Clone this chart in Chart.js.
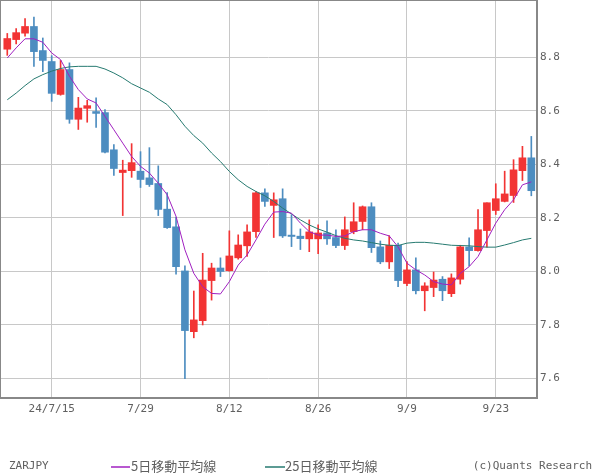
<!DOCTYPE html>
<html>
<head>
<meta charset="utf-8">
<script src="https://cdn.jsdelivr.net/npm/chart.js@4.4.1/dist/chart.umd.min.js"></script>
<style>
  html, body { margin: 0; padding: 0; background: #ffffff; }
  #wrap { width: 600px; height: 475px; position: relative; }
</style>
</head>
<body>
<div id="wrap"><canvas id="c" width="600" height="475"></canvas></div>
<script>
const symbol = 'ZARJPY';
const dates = ['7/8','7/9','7/10','7/11','7/12','7/15','7/16','7/17','7/18','7/19','7/22','7/23','7/24','7/25','7/26','7/29','7/30','7/31','8/1','8/2','8/5','8/6','8/7','8/8','8/9','8/12','8/13','8/14','8/15','8/16','8/19','8/20','8/21','8/22','8/23','8/26','8/27','8/28','8/29','8/30','9/2','9/3','9/4','9/5','9/6','9/9','9/10','9/11','9/12','9/13','9/16','9/17','9/18','9/19','9/20','9/23','9/24','9/25','9/26','9/27'];
const tickDates = ['7/15','7/29','8/12','8/26','9/9','9/23'];
const tickLabels = ['24/7/15','7/29','8/12','8/26','9/9','9/23'];
const yTicks = [7.6, 7.8, 8.0, 8.2, 8.4, 8.6, 8.8];

const opens  = [8.830,8.866,8.890,8.915,8.825,8.784,8.661,8.754,8.568,8.609,8.597,8.593,8.454,8.369,8.376,8.374,8.349,8.328,8.232,8.166,8.001,7.774,7.815,7.965,8.012,8.002,8.050,8.095,8.148,8.293,8.246,8.271,8.135,8.131,8.121,8.121,8.143,8.126,8.096,8.148,8.186,8.241,8.091,8.035,8.097,7.954,8.005,7.927,7.939,7.970,7.916,7.970,8.091,8.077,8.152,8.227,8.261,8.283,8.376,8.424];
const highs  = [8.889,8.907,8.945,8.950,8.872,8.806,8.788,8.779,8.650,8.639,8.648,8.604,8.473,8.415,8.477,8.447,8.462,8.394,8.294,8.202,8.020,7.926,8.067,8.030,8.050,8.151,8.136,8.173,8.298,8.308,8.293,8.308,8.211,8.158,8.192,8.173,8.188,8.155,8.203,8.256,8.244,8.256,8.113,8.133,8.105,8.036,8.050,7.957,7.997,7.980,7.990,8.097,8.125,8.230,8.256,8.327,8.374,8.417,8.467,8.504];
const lows   = [8.807,8.850,8.879,8.766,8.746,8.635,8.658,8.553,8.530,8.557,8.538,8.442,8.358,8.208,8.351,8.313,8.317,8.208,8.160,7.989,7.598,7.751,7.799,7.892,7.980,8.000,8.045,8.055,8.126,8.242,8.126,8.126,8.092,8.081,8.073,8.066,8.100,8.088,8.081,8.140,8.155,8.070,8.028,8.010,7.942,7.946,7.915,7.852,7.905,7.890,7.905,7.952,8.020,8.075,8.090,8.212,8.259,8.257,8.339,8.282];
const closes = [8.870,8.892,8.915,8.821,8.788,8.665,8.754,8.568,8.610,8.619,8.590,8.445,8.384,8.378,8.406,8.343,8.324,8.231,8.163,8.017,7.778,7.818,7.967,8.012,7.999,8.057,8.098,8.147,8.293,8.261,8.267,8.132,8.130,8.122,8.147,8.143,8.121,8.096,8.155,8.185,8.241,8.088,8.035,8.097,7.965,8.005,7.927,7.945,7.967,7.927,7.975,8.091,8.077,8.155,8.256,8.271,8.289,8.379,8.424,8.301];
const ma5  = [8.797,8.835,8.869,8.869,8.856,8.816,8.791,8.729,8.679,8.644,8.629,8.579,8.529,8.479,8.429,8.392,8.367,8.329,8.286,8.205,8.080,7.992,7.942,7.917,7.915,7.961,8.023,8.061,8.117,8.176,8.221,8.223,8.217,8.180,8.148,8.135,8.135,8.130,8.132,8.148,8.155,8.155,8.142,8.132,8.091,8.030,8.005,7.986,7.961,7.952,7.949,7.992,8.017,8.055,8.117,8.180,8.230,8.267,8.323,8.334];
const ma25 = [8.641,8.666,8.694,8.719,8.735,8.748,8.758,8.764,8.766,8.766,8.766,8.756,8.741,8.723,8.701,8.685,8.669,8.644,8.623,8.585,8.542,8.507,8.479,8.442,8.410,8.373,8.342,8.317,8.298,8.282,8.261,8.236,8.214,8.192,8.173,8.158,8.146,8.133,8.123,8.117,8.113,8.107,8.101,8.097,8.096,8.105,8.108,8.108,8.105,8.101,8.097,8.096,8.095,8.092,8.090,8.090,8.098,8.107,8.117,8.123];
const ma5Label = '5日移動平均線';
const ma25Label = '25日移動平均線';
const credit = '(c)Quants Research';

const UP = '#f23434';
const DOWN = '#4d8dc0';
const MA5C = '#a020c0';
const MA25C = '#267a70';
const TXT = '#606060';
const MONO = "'DejaVu Sans Mono', 'Liberation Mono', monospace";

const candleColor = (i) => closes[i] >= opens[i] ? UP : DOWN;

const wickData = dates.map((d, i) => ({x: i, y: [lows[i], highs[i]]}));
const bodyData = dates.map((d, i) => ({x: i, y: [opens[i], closes[i]]}));
const ma5Data  = dates.map((d, i) => ({x: i, y: ma5[i]}));
const ma25Data = dates.map((d, i) => ({x: i, y: ma25[i]}));

const frame = {
  id: 'frame',
  afterDraw(chart) {
    const {ctx, chartArea: a} = chart;
    ctx.save();
    ctx.strokeStyle = '#888888';
    ctx.lineWidth = 2;
    ctx.strokeRect(a.left, a.top, a.right - a.left, a.bottom - a.top);
    // footer
    const y = 466;
    ctx.textBaseline = 'middle';
    ctx.fillStyle = TXT;
    ctx.font = '11px ' + MONO;
    ctx.textAlign = 'left';
    ctx.fillText(symbol, 9, y);
    ctx.textAlign = 'right';
    ctx.fillText(credit, 592, y);
    ctx.textAlign = 'left';
    ctx.font = "13px 'Noto Sans CJK JP', sans-serif";
    ctx.lineWidth = 1.5;
    ctx.strokeStyle = MA5C;
    ctx.beginPath(); ctx.moveTo(111, y + 1); ctx.lineTo(130, y + 1); ctx.stroke();
    ctx.fillText(ma5Label, 131, y);
    ctx.strokeStyle = MA25C;
    ctx.beginPath(); ctx.moveTo(265, y + 1); ctx.lineTo(285, y + 1); ctx.stroke();
    ctx.fillText(ma25Label, 285, y);
    ctx.restore();
  }
};

new Chart(document.getElementById('c'), {
  type: 'bar',
  data: {
    datasets: [
      { type: 'line', data: ma25Data, borderColor: MA25C, borderWidth: 1, pointRadius: 0, tension: 0, order: 1 },
      { type: 'line', data: ma5Data, borderColor: MA5C, borderWidth: 1, pointRadius: 0, tension: 0, order: 0 },
      { type: 'bar', data: bodyData, grouped: false, barThickness: 7, borderWidth: 0, borderSkipped: false,
        backgroundColor: (c) => candleColor(c.dataIndex), order: 2 },
      { type: 'bar', data: wickData, grouped: false, barThickness: 1, borderWidth: 0, borderSkipped: false,
        backgroundColor: (c) => candleColor(c.dataIndex), order: 3 }
    ]
  },
  options: {
    responsive: false,
    animation: false,
    devicePixelRatio: 1,
    layout: { padding: 0 },
    plugins: { legend: { display: false }, tooltip: { enabled: false }, title: { display: false } },
    scales: {
      x: {
        type: 'linear',
        offset: false,
        min: -0.82,
        max: 59.64,
        afterFit(s) { s.height = 77; s.paddingLeft = 0; s.paddingRight = 0; },
        afterBuildTicks(s) {
          s.ticks = tickDates.map(d => ({ value: dates.indexOf(d) }));
        },
        ticks: {
          padding: 5,
          autoSkip: false,
          maxRotation: 0,
          color: TXT,
          font: { family: MONO, size: 11 },
          callback: (v) => tickLabels[tickDates.indexOf(dates[v])]
        },
        grid: { color: '#c8c8c8', lineWidth: 1, drawTicks: false, offset: false },
        border: { display: false }
      },
      y: {
        position: 'right',
        min: 7.526,
        max: 9.014,
        afterFit(s) { s.width = 63; s.paddingTop = 0; s.paddingBottom = 0; },
        afterBuildTicks(s) {
          s.ticks = yTicks.map(v => ({ value: v }));
        },
        ticks: {
          padding: 3,
          color: TXT,
          font: { family: MONO, size: 11 },
          callback: (v) => Number(v).toFixed(1)
        },
        grid: { color: '#c8c8c8', lineWidth: 1, drawTicks: false },
        border: { display: false }
      }
    }
  },
  plugins: [frame]
});
</script>
</body>
</html>
